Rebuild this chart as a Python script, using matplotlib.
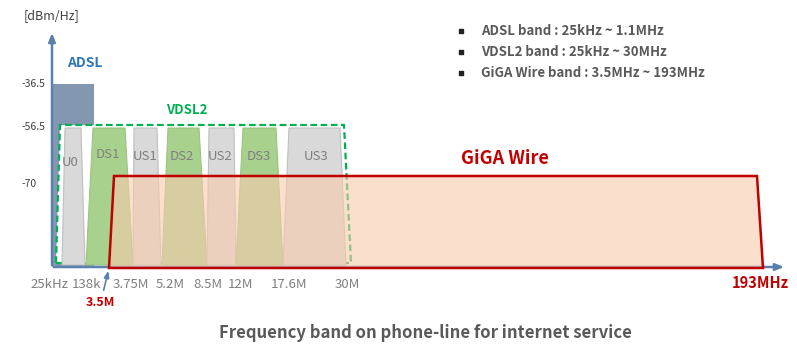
import matplotlib as mpl
import matplotlib.pyplot as plt
from matplotlib.patches import Polygon

mpl.rcParams["font.family"] = ["Noto Sans CJK KR", "DejaVu Sans"]

# --- content -------------------------------------------------------------
PSD_LABELS = ["-36.5", "-56.5", "-70"]
FREQ_LABELS = ["25kHz", "138k", "3.75M", "5.2M", "8.5M", "12M", "17.6M", "30M"]
BAND_NAMES = ["U0", "DS1", "US1", "DS2", "US2", "DS3", "US3"]
LEGEND_LINES = [
    "ADSL band : 25kHz ~ 1.1MHz",
    "VDSL2 band : 25kHz ~ 30MHz",
    "GiGA Wire band : 3.5MHz ~ 193MHz",
]
TITLE = "Frequency band on phone-line for internet service"

# --- schematic layout (pixel space, y grows downward) --------------------
BASE_Y = 267
PSD_Y = [84, 127, 184]
FREQ_X = [49, 87, 131, 170, 208, 241, 289, 347]
# band trapezoids: top-left, top-right, bottom-left, bottom-right
BAND_TOP = [(65, 81), (93, 125), (134, 157), (168, 199), (209, 234), (243, 276), (289, 340)]
BAND_BOT = [(62, 85), (86, 133), (133, 161), (162, 207), (207, 236), (236, 283), (283, 346)]
BAND_LABEL_XY = [(70, 162), (108, 155), (145, 157), (182, 156), (220, 157), (259, 156), (316, 156)]
BAND_TOP_Y, BAND_BOT_Y = 128, 265

C_AXIS = "#5A80AD"
C_ADSL = "#8497B0"
C_GREEN = "#A9D18E"
C_GRAY = "#D9D9D9"
C_RED = "#C00000"
C_TEXT = "#595959"
C_TICK = "#7F7F7F"

fig = plt.figure(figsize=(7.97, 3.54), dpi=100)
ax = fig.add_axes([0, 0, 1, 1])
ax.set_xlim(0, 797)
ax.set_ylim(354, 0)
ax.axis("off")

# ADSL block
ax.add_patch(Polygon([(52, BASE_Y), (52, PSD_Y[0]), (94, PSD_Y[0]), (94, BASE_Y)],
                     closed=True, facecolor=C_ADSL, edgecolor="none", zorder=1))

# VDSL2 envelope (white fill hides the ADSL block behind it)
ax.add_patch(Polygon([(56, 263), (60, 125), (344, 125), (351, 263)], closed=True,
                     facecolor="white", edgecolor="#00B050", linestyle=(0, (3, 1.6)),
                     linewidth=1.6, zorder=2))

for name, top, bot, (lx, ly) in zip(BAND_NAMES, BAND_TOP, BAND_BOT, BAND_LABEL_XY):
    color = C_GREEN if name.startswith("DS") else C_GRAY
    edge = "#9BC47F" if name.startswith("DS") else "#BFBFBF"
    ax.add_patch(Polygon([(bot[0], BAND_BOT_Y), (top[0], BAND_TOP_Y), (top[1], BAND_TOP_Y),
                          (bot[1], BAND_BOT_Y)], closed=True, facecolor=color,
                         edgecolor=edge, linewidth=0.8, zorder=3))
    ax.text(lx, ly, name, ha="center", va="center", fontsize=9.5, color=C_TICK, zorder=4)

# axes with arrows
ax.annotate("", xy=(52, 30), xytext=(52, BASE_Y + 1),
            arrowprops=dict(arrowstyle="-|>,head_length=0.5,head_width=0.2", color=C_AXIS, lw=1.8),
            zorder=5)
ax.annotate("", xy=(787, BASE_Y), xytext=(51, BASE_Y),
            arrowprops=dict(arrowstyle="-|>,head_length=0.5,head_width=0.2", color=C_AXIS, lw=1.8),
            zorder=5)

# GiGA Wire band
giga = [(109, 268), (114, 176), (757, 176), (763, 268)]
ax.add_patch(Polygon(giga, closed=True, facecolor="#F8CBAD", alpha=0.6,
                     edgecolor="none", zorder=6))
ax.add_patch(Polygon(giga, closed=True, facecolor="none", edgecolor=C_RED,
                     linewidth=1.8, zorder=7))

# labels
ax.text(24, 16, "[dBm/Hz]", ha="left", va="center", fontsize=9, color="#404040")
for lab, y in zip(PSD_LABELS, PSD_Y):
    ax.text(22, y, lab, ha="left", va="center", fontsize=7.5, color="#404040")
for lab, x in zip(FREQ_LABELS, FREQ_X):
    ax.text(x, 285, lab, ha="center", va="center", fontsize=9.5, color=C_TICK)

ax.text(85, 63, "ADSL", ha="center", va="center", fontsize=10, fontweight="bold",
        color="#2E75B6")
ax.text(187, 110, "VDSL2", ha="center", va="center", fontsize=9.5, fontweight="bold",
        color="#00B050")
ax.text(505, 158, "GiGA Wire", ha="center", va="center", fontsize=13, fontweight="bold",
        color=C_RED)
ax.text(789, 283, "193MHz", ha="right", va="center", fontsize=10.5, fontweight="bold",
        color=C_RED)
ax.text(100, 302, "3.5M", ha="center", va="center", fontsize=9, fontweight="bold",
        color=C_RED)
ax.annotate("", xy=(109, 268), xytext=(103, 293),
            arrowprops=dict(arrowstyle="-|>,head_length=0.4,head_width=0.15", color=C_AXIS, lw=1.2),
            zorder=8)

for i, line in enumerate(LEGEND_LINES):
    y = 31 + 21 * i
    ax.scatter([461], [y], marker="s", s=7, color="#222222", zorder=8)
    ax.text(481, y, line, ha="left", va="center", fontsize=9.5, fontweight="bold",
            color=C_TEXT)

ax.text(425, 333, TITLE, ha="center", va="center", fontsize=12, fontweight="bold",
        color=C_TEXT)

fig.savefig("out.png", dpi=100)
